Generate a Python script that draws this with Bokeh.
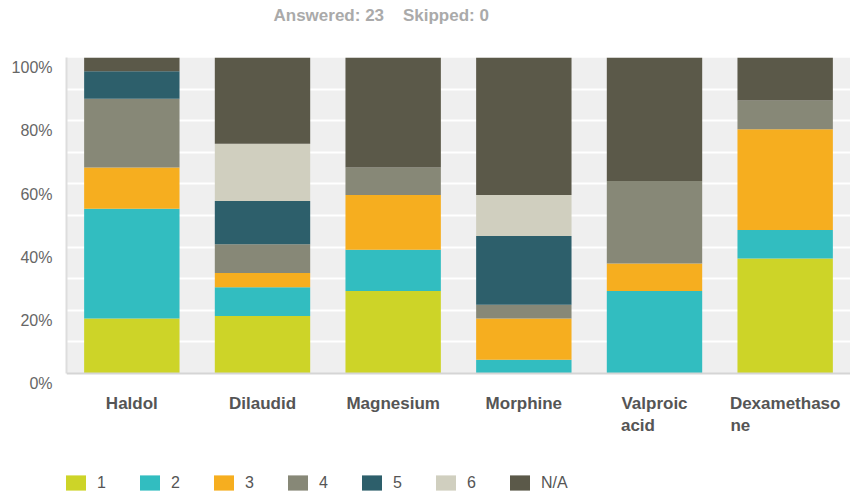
from bokeh.plotting import figure
from bokeh.models import (ColumnDataSource, FactorRange, Range1d, FixedTicker,
                          CustomJSTickFormatter, Legend, LegendItem, Title,
                          BoxAnnotation, Span)
from bokeh.core.properties import value
from bokeh.embed import file_html
from bokeh.resources import INLINE

# ---- data (percent of respondents per drug) ----
NB = "\u00a0"
drugs = ["Haldol", "Dilaudid", "Magnesium", "Morphine", "Valproic acid", "Dexamethasone"]
tick_labels = ["Haldol", "Dilaudid", "Magnesium", "Morphine",
               "Valproic\nacid" + NB * 7, "Dexamethaso\nne" + NB * 19]
options = ["1", "2", "3", "4", "5", "6", "N/A"]

s1 = [17.39, 18.18, 26.09, 0.00, 0.00, 36.36]
s2 = [34.78, 9.09, 13.04, 4.35, 26.09, 9.09]
s3 = [13.04, 4.55, 17.39, 13.04, 8.70, 31.82]
s4 = [21.74, 9.09, 8.70, 4.35, 26.09, 9.09]
s5 = [8.70, 13.64, 0.00, 21.74, 0.00, 0.00]
s6 = [0.00, 18.18, 0.00, 13.04, 0.00, 0.00]
s_na = [4.35, 27.27, 34.78, 43.48, 39.13, 13.64]

colors = ["#cdd428", "#32bdc0", "#f6ae1f", "#878877", "#2d5f6b", "#d0cfbf", "#5b5949"]
y_ticks = [0, 20, 40, 60, 80, 100]
grid_ticks = [10, 20, 30, 40, 50, 60, 70, 80, 90]
header = "Answered: 23" + NB * 4 + "Skipped: 0"

FONT = "Liberation Sans"

# layout constants (pixels)
FRAME_W, FRAME_H = 784, 437      # frame includes the white band below the bars
PLOT_H = 316                     # height of the 0..100% region
LABEL_GAP = 20                   # gap from the 0% line to the top of category labels
px_per_unit = PLOT_H / 100.0
y_min = -(FRAME_H - PLOT_H) / px_per_unit
label_y = -LABEL_GAP / px_per_unit

source = ColumnDataSource(dict(drug=drugs, label=tick_labels,
                               **{"1": s1, "2": s2, "3": s3, "4": s4,
                                  "5": s5, "6": s6, "N/A": s_na}))

p = figure(x_range=FactorRange(*drugs), y_range=Range1d(y_min, 100),
           frame_width=FRAME_W, frame_height=FRAME_H, x_axis_location=None,
           output_backend="svg", toolbar_location=None,
           min_border_left=66, min_border_right=0, min_border_top=0, min_border_bottom=0)

p.background_fill_color = "white"
p.border_fill_color = "white"
p.outline_line_color = None

# grey plotting area from 0 to 100 %
p.add_layout(BoxAnnotation(bottom=0, top=100, fill_color="#efefef", fill_alpha=1,
                           line_color=None, level="image"))

p.xgrid.grid_line_color = None
p.ygrid.ticker = FixedTicker(ticks=grid_ticks)
p.ygrid.grid_line_color = "white"
p.ygrid.grid_line_width = 2

renderers = p.vbar_stack(options, x="drug", width=0.73, color=colors,
                         line_width=0, source=source)

# baseline
p.add_layout(Span(location=0, dimension="width", line_color="#d5d5d5", line_width=2))

# category labels
p.text(x="drug", y=label_y, text="label", source=source,
       text_font=value(FONT), text_font_size="17px", text_font_style="bold",
       text_color="#555555", text_align="center", text_baseline="top")

p.yaxis.ticker = FixedTicker(ticks=y_ticks)
p.yaxis.bounds = (0, 100)
# empty first line drops each percent label slightly below its tick, as in the original
p.yaxis.formatter = CustomJSTickFormatter(code='return "\\n" + tick + "%";')
p.yaxis.major_tick_line_color = None
p.yaxis.major_tick_out = 0
p.yaxis.major_tick_in = 0
p.yaxis.minor_tick_line_color = None
p.yaxis.axis_line_color = "#dddddd"
p.yaxis.axis_line_width = 2
p.yaxis.major_label_standoff = 14
p.yaxis.major_label_text_font = FONT
p.yaxis.major_label_text_font_size = "16px"
p.yaxis.major_label_text_color = "#666666"

# spacer title (white), then the header title
spacer = Title(text="x", text_font=FONT, text_font_size="10px", text_color="white", standoff=17)
p.add_layout(spacer, "above")
title = Title(text=header, align="left", offset=207, standoff=6,
              text_font=FONT, text_font_size="17px", text_font_style="bold",
              text_color="#aaaaaa")
p.add_layout(title, "above")

items = [LegendItem(label=o, renderers=[r]) for o, r in zip(options, renderers)]
legend = Legend(items=items, orientation="horizontal", location=(-3, 2),
                glyph_width=25, glyph_height=19, label_standoff=9, label_width=20,
                spacing=20, padding=0, margin=0, border_line_color=None,
                background_fill_alpha=0, label_text_font=FONT,
                label_text_font_size="16px", label_text_color="#555555")
p.add_layout(legend)

open("out.html", "w").write(file_html(p, INLINE))
